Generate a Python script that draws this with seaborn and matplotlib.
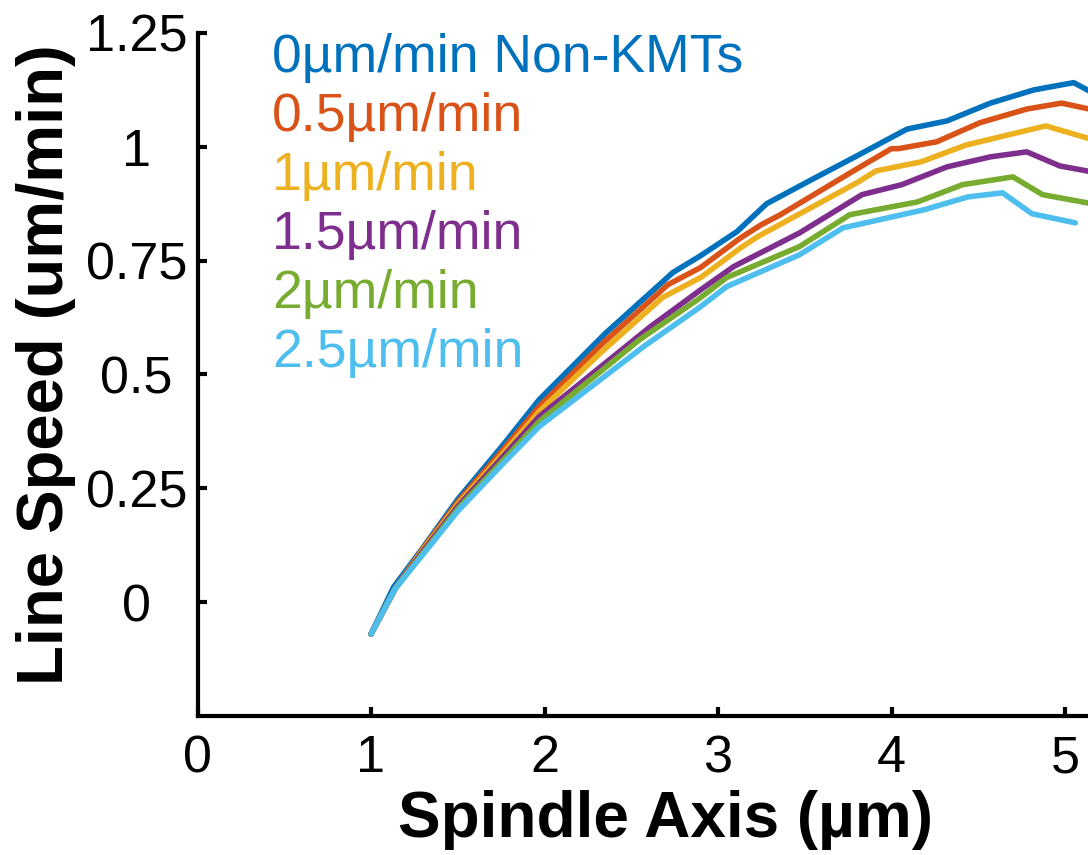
import matplotlib
matplotlib.use("Agg")
import matplotlib.pyplot as plt
import seaborn as sns
import pandas as pd

# Line speed profiles along the spindle axis, one per KMT flux rate
series_names = ["0\u00b5m/min Non-KMTs", "0.5\u00b5m/min", "1\u00b5m/min",
                "1.5\u00b5m/min", "2\u00b5m/min", "2.5\u00b5m/min"]
series_colors = ["#0072BD", "#D95319", "#EDB120", "#7E2F8E", "#77AC30", "#4DBEEE"]

x_0 = [1.0, 1.13, 1.3, 1.5, 1.75, 1.97, 2.35, 2.74, 2.9, 3.11, 3.28, 3.55, 3.8, 4.05, 4.09, 4.32, 4.57, 4.82, 5.05, 5.3]
y_0 = [-0.07, 0.033, 0.12, 0.226, 0.34, 0.445, 0.59, 0.724, 0.761, 0.814, 0.875, 0.93, 0.98, 1.031, 1.039, 1.057, 1.096, 1.125, 1.141, 1.09]

x_05 = [1.0, 1.14, 1.3, 1.5, 1.75, 1.97, 2.34, 2.71, 2.9, 3.13, 3.25, 3.36, 3.82, 4.0, 4.04, 4.26, 4.51, 4.78, 4.98, 5.3]
y_05 = [-0.07, 0.03, 0.118, 0.22, 0.33, 0.43, 0.57, 0.697, 0.735, 0.80, 0.829, 0.851, 0.956, 0.996, 0.996, 1.011, 1.053, 1.083, 1.096, 1.07]

x_1 = [1.0, 1.14, 1.3, 1.5, 1.75, 1.97, 2.33, 2.68, 2.9, 3.13, 3.23, 3.8, 3.91, 4.17, 4.43, 4.67, 4.89, 5.3]
y_1 = [-0.07, 0.03, 0.115, 0.215, 0.322, 0.419, 0.55, 0.669, 0.713, 0.778, 0.803, 0.921, 0.947, 0.967, 1.004, 1.026, 1.046, 1.0]

x_15 = [1.0, 1.14, 1.3, 1.5, 1.75, 1.97, 2.61, 2.9, 3.09, 3.47, 3.83, 4.06, 4.32, 4.57, 4.78, 4.97, 5.3]
y_15 = [-0.07, 0.03, 0.112, 0.21, 0.315, 0.408, 0.605, 0.686, 0.737, 0.811, 0.895, 0.917, 0.956, 0.978, 0.989, 0.958, 0.935]

x_2 = [1.0, 1.14, 1.3, 1.5, 1.75, 1.97, 2.55, 2.9, 3.05, 3.47, 3.76, 4.15, 4.41, 4.70, 4.87, 5.3]
y_2 = [-0.07, 0.03, 0.108, 0.205, 0.307, 0.397, 0.577, 0.669, 0.713, 0.781, 0.851, 0.879, 0.917, 0.934, 0.895, 0.865]

x_25 = [1.0, 1.14, 1.3, 1.5, 1.75, 1.97, 2.57, 2.9, 3.05, 3.47, 3.72, 4.19, 4.44, 4.64, 4.81, 5.06]
y_25 = [-0.07, 0.03, 0.105, 0.20, 0.30, 0.386, 0.561, 0.649, 0.693, 0.763, 0.822, 0.862, 0.89, 0.899, 0.853, 0.833]

x_values = [x_0, x_05, x_1, x_15, x_2, x_25]
y_values = [y_0, y_05, y_1, y_15, y_2, y_25]

x_ticks = [0, 1, 2, 3, 4, 5]
x_tick_labels = ["0", "1", "2", "3", "4", "5"]
y_ticks = [1.25, 1.0, 0.75, 0.5, 0.25, 0.0]
y_tick_labels = ["1.25", "1", "0.75", "0.5", "0.25", "0"]

frames = [pd.DataFrame({"x": xs, "y": ys, "rate": name})
          for name, xs, ys in zip(series_names, x_values, y_values)]
df = pd.concat(frames, ignore_index=True)

sns.set_style("ticks")
plt.rcParams["font.family"] = ["Liberation Sans", "DejaVu Sans"]

W, H = 1088, 855
fig = plt.figure(figsize=(W / 100, H / 100), dpi=100)
ax = fig.add_axes([197.5 / W, (H - 716) / H, (W - 197.5) / W, (716 - 33) / H])

sns.lineplot(data=df, x="x", y="y", hue="rate", hue_order=series_names,
             palette=series_colors, estimator=None, sort=False,
             linewidth=4.0, legend=False, ax=ax)

ax.set_xlim(0, (W - 197.5) / 173.5)
ax.set_ylim(-0.25, 1.25)
ax.set_xticks(x_ticks)
ax.set_xticklabels(x_tick_labels)
ax.set_yticks(y_ticks)
ax.set_yticklabels(y_tick_labels)

for side in ["top", "right"]:
    ax.spines[side].set_visible(False)
for side in ["left", "bottom"]:
    ax.spines[side].set_linewidth(3.0)
    ax.spines[side].set_color("black")

ax.tick_params(axis="both", direction="in", length=6.5, width=3.0,
               labelsize=37.5, colors="black")
ax.tick_params(axis="x", pad=13)
ax.tick_params(axis="y", pad=44)
for lbl in ax.get_yticklabels():
    lbl.set_horizontalalignment("center")

ax.set_xlabel("Spindle Axis (\u00b5m)", fontsize=46, fontweight="bold", color="black")
ax.set_ylabel("Line Speed (um/min)", fontsize=47, fontweight="bold", color="black")
ax.xaxis.label.set_va("baseline")
ax.xaxis.set_label_coords((666 - 197.5) / (W - 197.5), (716 - 837) / (716 - 33))
ax.yaxis.label.set_rotation_mode("anchor")
ax.yaxis.label.set_va("baseline")
ax.yaxis.label.set_ha("center")
ax.yaxis.set_label_coords((63 - 197.5) / (W - 197.5), (716 - 365) / (716 - 33))

# Colored series names stacked in the upper-left of the plot
for i, (name, col) in enumerate(zip(series_names, series_colors)):
    base = 72 + 59 * i
    fig.text(272 / W, 1 - base / H, name, color=col, fontsize=38.5,
             ha="left", va="baseline")

fig.savefig("out.png", dpi=100)
